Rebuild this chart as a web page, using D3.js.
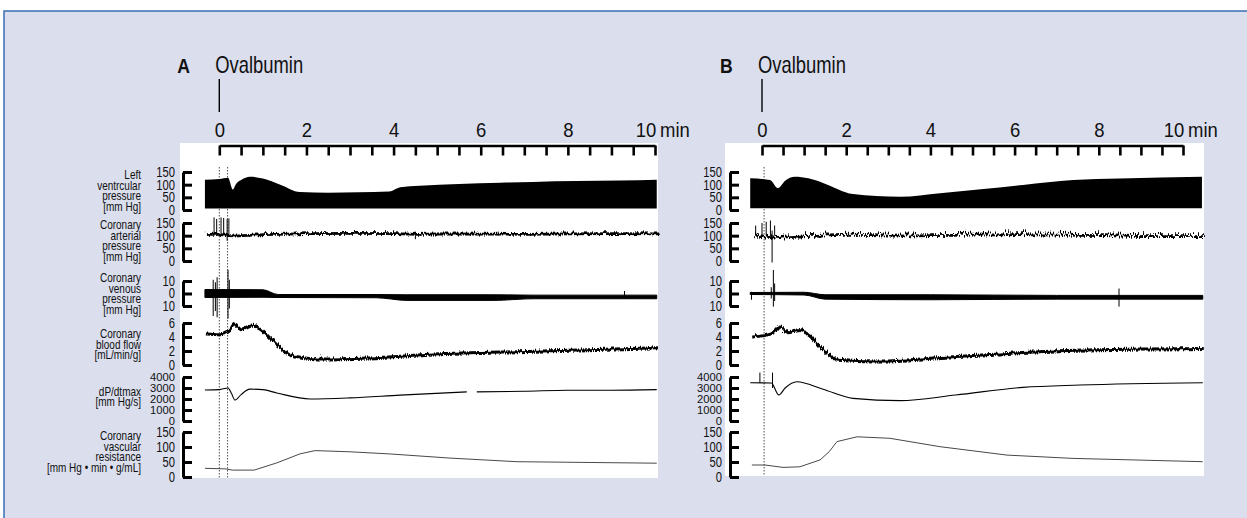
<!DOCTYPE html>
<html>
<head>
<meta charset="utf-8">
<script src="https://cdn.jsdelivr.net/npm/d3@7/dist/d3.min.js"></script>
<style>
body{margin:0;background:#fff;overflow:hidden;}
text{font-family:"Liberation Sans",Arial,sans-serif;fill:#111;}
</style>
</head>
<body>
<script>
// ---- values (time in min) ----
var minuteLabels = [0, 2, 4, 6, 8, 10];
var minuteTicks = [0,0.5,1,1.5,2,2.5,3,3.5,4,4.5,5,5.5,6,6.5,7,7.5,8,8.5,9,9.5,10];

var rowTitles = [
  ["Left", "ventrcular", "pressure", "[mm Hg]"],
  ["Coronary", "arterial", "pressure", "[mm Hg]"],
  ["Coronary", "venous", "pressure", "[mm Hg]"],
  ["Coronary", "blood flow", "[mL/min/g]"],
  ["dP/dtmax", "[mm Hg/s]"],
  ["Coronary", "vascular", "resistance", "[mm Hg \u2022 min \u2022 g/mL]"]
];
var rowDomains = [[0,150],[0,150],[-10,10],[0,6],[0,4000],[0,150]];
var rowTicks = [[0,50,100,150],[0,50,100,150],[-10,0,10],[0,2,4,6],[0,1000,2000,3000,4000],[0,50,100,150]];

// panel A  -- bands are [t, low, high], lines are [t, value], spikes [t, low, high]
var lvPressureA = [[-0.33,6,119],[0.0,6,122],[0.2,6,127],[0.31,6,81],[0.38,6,102],[0.51,6,119],[0.7,6,131],[1.0,6,124],[1.4,6,100],[1.85,6,71],[2.5,6,68],[3.2,6,70],[3.9,6,73],[4.15,6,90],[4.6,6,96],[5.5,6,103],[6.45,6,108],[7.2,6,111],[8.2,6,114],[9.2,6,116],[10.04,6,119]];
var arterialA = [[-0.33,112],[-0.2,114],[0.0,112],[0.3,106],[0.6,109],[1.0,112],[1.5,114],[2.0,116],[3.0,117],[4.0,116],[4.5,113],[5.0,115],[6.0,114],[7.0,113],[8.0,115],[9.0,116],[10.04,115]];
var arterialSpikesA = [[-0.12,100,172],[-0.06,104,166],[0.04,98,172],[0.1,104,170],[0.18,80,166],[0.22,96,168],[1.2,102,116],[2.9,104,118],[4.5,86,116],[6.4,100,116],[9.6,104,118]];
var venousA = [[-0.33,-3.2,3.2],[1.0,-3.0,3.0],[1.35,-3.2,-0.8],[3.6,-3.4,-0.8],[4.3,-5.5,-1],[6.3,-5.5,-1],[7.2,-4.2,-1.3],[10.04,-4.2,-1.3]];
var venousSpikesA = [[-0.14,-18,11],[-0.09,-14,9],[-0.05,-19,13],[0.2,-20,19],[0.23,-12,11],[9.3,-4,2]];
var flowA = [[-0.33,4.7],[-0.03,4.6],[0.2,5.2],[0.31,6.0],[0.47,5.3],[0.7,5.85],[0.89,5.4],[1.09,4.3],[1.32,2.9],[1.55,1.8],[1.78,1.3],[2.24,1.0],[3.39,1.15],[4.9,1.7],[7.2,2.1],[10.04,2.6]];
var dpdtA = [[-0.33,2820],[0.0,2850],[0.2,3000],[0.28,2500],[0.36,1900],[0.5,2400],[0.7,2900],[1.0,2850],[1.32,2550],[2.08,2000],[3.0,2100],[4.15,2350],[5.68,2650],[5.8,null],[5.91,2650],[7.0,2700],[8.0,2800],[9.0,2800],[10.04,2850]];
var resistanceA = [[-0.33,29],[0.15,27],[0.3,23],[0.8,23],[1.32,47],[1.85,77],[2.2,88],[3.0,84],[3.9,77],[5.3,63],[6.83,51],[10.04,46]];

// panel B
var lvPressureB = [[-0.28,7,125],[0.19,7,118],[0.38,7,86],[0.55,7,115],[0.78,7,131],[1.1,7,125],[1.45,7,107],[2.16,7,63],[3.28,7,52],[4.23,7,66],[5.2,7,82],[6.2,7,99],[7.39,7,118],[8.5,7,124],[10.45,7,131]];
var arterialB = [[-0.28,115],[0.3,105],[0.6,108],[1.0,112],[2.0,118],[3.0,114],[4.0,116],[5.0,118],[6.0,120],[7.0,118],[8.0,116],[9.0,112],[10.45,112]];
var arterialSpikesB = [[-0.15,100,140],[0.0,95,150],[0.1,100,155],[0.2,90,160],[0.24,-6,120],[0.3,100,140]];
var venousB = [[-0.28,-0.8,0.8],[1.0,-1.2,1.0],[1.5,-4.5,-1],[4.0,-5,-1],[7.0,-4.5,-1.5],[10.47,-4.5,-1.5]];
var venousSpikesB = [[-0.25,-5,1.4],[0.22,-4,5],[0.27,-10.5,18.8],[0.3,-6,8],[8.48,-10.5,4]];
var flowB = [[-0.28,4.3],[0.07,4.55],[0.26,5.0],[0.4,5.7],[0.59,4.9],[0.86,5.2],[1.07,4.5],[1.38,2.6],[1.78,0.96],[2.64,0.7],[4.23,1.2],[5.82,1.8],[7.39,2.25],[10.47,2.5]];
var dpdtB = [[-0.28,3480],[0.22,3450],[0.4,2360],[0.55,3000],[0.83,3570],[1.45,2880],[2.16,2060],[3.28,1850],[4.6,2360],[6.2,3060],[7.55,3270],[10.47,3480]];
var dpdtSpikesB = [[-0.05,3480,4400],[0.25,3000,4400]];
var resistanceB = [[-0.24,40],[0.07,40],[0.5,32],[0.9,34],[1.38,57],[1.6,85],[1.78,118],[2.26,134],[3.04,129],[4.23,101],[5.82,73],[7.39,62],[10.47,51]];

// ---- layout ----
var W = 1247, H = 518;
var SX = 0.8; // condensed look
var rowRanges = [[210,172],[261,223],[306,281],[365,323],[421,377],[477,432]];
var titleTop = [175,225,278,334,391.7,436];

var panels = [
  {letter:"A", x0:219.3, x10:655, white:[180,143,478,335], axisX:183, labelX:175, titleX:141,
   markers:[0,0.19], lv:lvPressureA, art:arterialA, artSp:arterialSpikesA, ven:venousA, venSp:venousSpikesA,
   flow:flowA, dpdt:dpdtA, dpSp:[], res:resistanceA, noise:"jitA"},
  {letter:"B", x0:762, x10:1183, white:[725,143,479,333], axisX:730, labelX:722, titleX:null,
   markers:[0.05], lv:lvPressureB, art:arterialB, artSp:arterialSpikesB, ven:venousB, venSp:venousSpikesB,
   flow:flowB, dpdt:dpdtB, dpSp:dpdtSpikesB, res:resistanceB, noise:"jitB"}
];

var svg = d3.select("body").append("svg").attr("width", W).attr("height", H);

// rough pen texture for the noisy traces
var defs = svg.append("defs");
function jitter(id, freq, scale){
  var f = defs.append("filter").attr("id",id).attr("filterUnits","userSpaceOnUse")
    .attr("x",0).attr("y",0).attr("width",W).attr("height",H);
  f.append("feTurbulence").attr("type","turbulence").attr("baseFrequency",freq)
    .attr("numOctaves",1).attr("seed",3).attr("result","n");
  f.append("feDisplacementMap").attr("in","SourceGraphic").attr("in2","n")
    .attr("scale",scale).attr("xChannelSelector","B").attr("yChannelSelector","R");
}
jitter("jitA","0.9 0.03",5);
jitter("jitB","0.6 0.03",9);
jitter("jitF","0.9 0.03",4);

// frame
svg.append("rect").attr("x",4).attr("y",11).attr("width",W).attr("height",H)
  .attr("fill","#dadeed").attr("stroke","#3a6fb4").attr("stroke-width",1.5);

function label(g, x, y, txt, size, sx){
  return g.append("text").attr("transform","translate("+x+","+y+") scale("+(sx||SX)+",1)")
    .attr("font-size",size).text(txt);
}

var y = rowDomains.map(function(d,i){ return d3.scaleLinear().domain(d).range(rowRanges[i]); });

panels.forEach(function(p){
  var g = svg.append("g");
  var x = d3.scaleLinear().domain([0,10]).range([p.x0, p.x10]);

  g.append("rect").attr("x",p.white[0]).attr("y",p.white[1]).attr("width",p.white[2]).attr("height",p.white[3]).attr("fill","#fff");

  // injection markers
  p.markers.forEach(function(m){
    g.append("line").attr("x1",x(m)).attr("x2",x(m)).attr("y1",167).attr("y2",p.white[1]+p.white[3])
      .attr("stroke","#222").attr("stroke-width",0.8).attr("stroke-dasharray","1.5,1.5");
  });

  // row 0: left ventricular pressure band
  g.append("path").datum(p.lv)
    .attr("d", d3.area().curve(d3.curveMonotoneX).x(function(d){return x(d[0]);})
      .y0(function(d){return y[0](d[1]);}).y1(function(d){return y[0](d[2]);}))
    .attr("fill","#000");

  // row 1: coronary arterial pressure
  g.append("path").datum(p.art)
    .attr("d", d3.line().x(function(d){return x(d[0]);}).y(function(d){return y[1](d[1]);}))
    .attr("fill","none").attr("stroke","#000").attr("stroke-width",2.6).attr("filter","url(#"+p.noise+")");
  g.selectAll(".as").data(p.artSp).enter().append("line")
    .attr("x1",function(d){return x(d[0]);}).attr("x2",function(d){return x(d[0]);})
    .attr("y1",function(d){return y[1](d[1]);}).attr("y2",function(d){return y[1](d[2]);})
    .attr("stroke","#000").attr("stroke-width",1);

  // row 2: coronary venous pressure band
  g.append("path").datum(p.ven)
    .attr("d", d3.area().curve(d3.curveMonotoneX).x(function(d){return x(d[0]);})
      .y0(function(d){return y[2](d[1]);}).y1(function(d){return y[2](d[2]);}))
    .attr("fill","#000").attr("stroke","#000").attr("stroke-width",1);
  g.selectAll(".vs").data(p.venSp).enter().append("line")
    .attr("x1",function(d){return x(d[0]);}).attr("x2",function(d){return x(d[0]);})
    .attr("y1",function(d){return y[2](d[1]);}).attr("y2",function(d){return y[2](d[2]);})
    .attr("stroke","#000").attr("stroke-width",1);

  // row 3: coronary blood flow
  g.append("path").datum(p.flow)
    .attr("d", d3.line().curve(d3.curveMonotoneX).x(function(d){return x(d[0]);}).y(function(d){return y[3](d[1]);}))
    .attr("fill","none").attr("stroke","#000").attr("stroke-width",3).attr("filter","url(#jitF)");

  // row 4: dP/dtmax
  g.append("path").datum(p.dpdt)
    .attr("d", d3.line().curve(d3.curveMonotoneX).defined(function(d){return d[1]!==null;})
      .x(function(d){return x(d[0]);}).y(function(d){return y[4](d[1]);}))
    .attr("fill","none").attr("stroke","#000").attr("stroke-width",1.1);
  g.selectAll(".ds").data(p.dpSp).enter().append("line")
    .attr("x1",function(d){return x(d[0]);}).attr("x2",function(d){return x(d[0]);})
    .attr("y1",function(d){return y[4](d[1]);}).attr("y2",function(d){return y[4](d[2]);})
    .attr("stroke","#000").attr("stroke-width",1);

  // row 5: vascular resistance
  g.append("path").datum(p.res)
    .attr("d", d3.line().x(function(d){return x(d[0]);}).y(function(d){return y[5](d[1]);}))
    .attr("fill","none").attr("stroke","#333").attr("stroke-width",0.9);

  // top time axis
  var ax = g.append("g").attr("transform","translate(0,145.5)")
    .call(d3.axisBottom(x).tickValues(minuteTicks).tickSize(10).tickSizeOuter(0).tickFormat(""));
  ax.selectAll("path,line").attr("stroke","#000").attr("stroke-width",2.6);
  var axl = g.append("g").attr("transform","translate(0,137)")
    .call(d3.axisTop(x).tickValues(minuteLabels).tickSize(0).tickPadding(0)
      .tickFormat(function(d){return d;}));
  axl.select(".domain").remove();
  axl.selectAll("text").attr("font-size",21).attr("font-family",null).attr("transform","scale(0.88,1)");
  axl.selectAll("text").filter(function(d){return d===10;}).attr("text-anchor","end").attr("dx",1);
  label(g, x(10)+5, 137, "min", 21, 0.88);

  // Ovalbumin marker
  label(g, x(0)-4, 73, "Ovalbumin", 23);
  g.append("line").attr("x1",x(0)).attr("x2",x(0)).attr("y1",79).attr("y2",112)
    .attr("stroke","#000").attr("stroke-width",1.4);
  label(g, x(0)-42, 73, p.letter, 20, 0.88).attr("font-weight","bold");

  // row axes
  y.forEach(function(sc,i){
    var a = g.append("g").attr("transform","translate("+p.axisX+",0)")
      .call(d3.axisRight(sc).tickValues(rowTicks[i]).tickSize(9).tickSizeOuter(0).tickFormat(""));
    a.selectAll("path,line").attr("stroke","#000").attr("stroke-width",3);
    var l = g.append("g").attr("transform","translate("+p.labelX+",0)")
      .call(d3.axisLeft(sc).tickValues(rowTicks[i]).tickSize(0).tickPadding(0)
        .tickFormat(function(d){return Math.abs(d);}));
    l.select(".domain").remove();
    l.selectAll("text").attr("font-size",14).attr("font-family",null)
      .attr("transform", i===4 ? "scale(0.8,0.78)" : "scale(0.8,1)");

    if (p.titleX!==null) {
      g.append("text").attr("text-anchor","end").attr("font-size",12.5)
        .attr("transform","translate("+p.titleX+",0) scale(0.8,1)")
        .selectAll("tspan").data(rowTitles[i]).enter().append("tspan")
        .attr("x",0).attr("y",function(d,j){return titleTop[i]+4+j*10.6;})
        .text(function(d){return d;});
    }
  });
});
</script>
</body>
</html>
